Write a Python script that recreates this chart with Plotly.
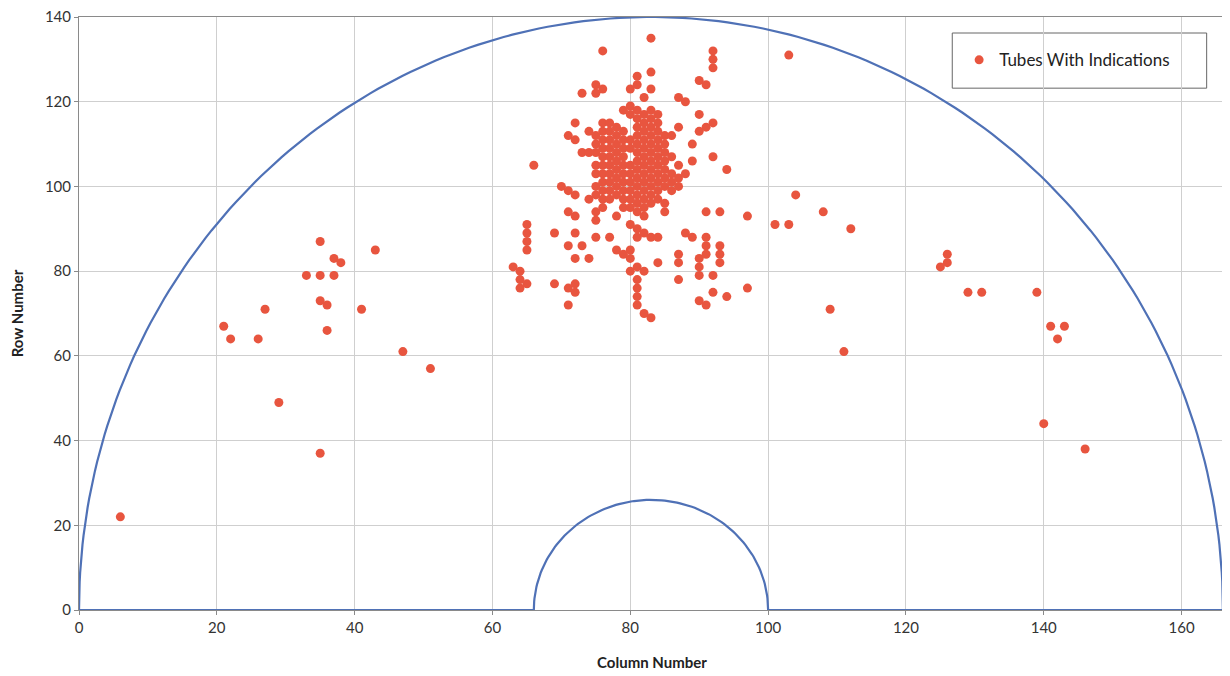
import numpy as np
import plotly.graph_objects as go

# Tube positions with indications: (column, row) grouped by column
tube_columns = {
    6: [22],
    21: [67], 22: [64], 26: [64], 27: [71], 29: [49],
    33: [79], 35: [87, 79, 73, 37], 36: [72, 66], 37: [83, 79], 38: [82],
    41: [71], 43: [85], 47: [61], 51: [57],
    63: [81], 64: [80, 78, 76], 65: [91, 89, 87, 85, 77], 66: [105],
    69: [89, 77], 70: [100], 71: [112, 99, 94, 86, 76, 72],
    72: [115, 111, 98, 93, 89, 83, 77, 75], 73: [122, 108, 86],
    74: [113, 108, 97, 83],
    75: [124, 122, 112, 110, 108, 105, 103, 100, 98, 94, 92, 88],
    76: [132, 123, 115, 113, 111, 109, 107, 105, 103, 101, 99, 97, 95],
    77: [115, 113, 111, 109, 107, 105, 103, 101, 99, 97, 88],
    78: [114, 112, 110, 108, 106, 104, 102, 100, 98, 93, 85],
    79: [118, 113, 111, 109, 107, 105, 103, 101, 99, 97, 95, 84],
    80: [123, 119, 117, 111, 109, 105, 103, 101, 99, 97, 95, 91, 85, 83, 80],
    81: [126, 124, 118, 116, 114, 112, 110, 108, 106, 104, 102, 100, 98, 96, 94, 90, 88, 81, 78, 76, 74, 72],
    82: [121, 117, 115, 113, 111, 109, 107, 105, 103, 101, 99, 97, 95, 93, 89, 80, 70],
    83: [135, 127, 123, 118, 116, 114, 112, 110, 108, 106, 104, 102, 100, 98, 96, 88, 69],
    84: [117, 115, 113, 111, 109, 107, 105, 103, 101, 99, 97, 88, 82],
    85: [112, 110, 108, 106, 104, 102, 100, 96, 94],
    86: [112, 107, 103, 101, 99],
    87: [121, 114, 105, 102, 100, 84, 82, 78],
    88: [120, 103, 89], 89: [110, 106, 88],
    90: [125, 117, 113, 83, 81, 79, 73],
    91: [124, 114, 94, 88, 86, 84, 72],
    92: [132, 130, 128, 115, 107, 79, 75],
    93: [94, 86, 84, 82], 94: [104, 74], 97: [93, 76],
    101: [91], 103: [131, 91], 104: [98], 108: [94], 109: [71], 111: [61], 112: [90],
    125: [81], 126: [84, 82], 129: [75], 131: [75], 139: [75], 140: [44],
    141: [67], 142: [64], 143: [67], 146: [38],
}

cols = [c for c, rows in tube_columns.items() for _ in rows]
rows = [r for c, rs in tube_columns.items() for r in rs]

# Tubesheet outline parameters
CENTER = 83
OUTER_RX, OUTER_RY = 83, 140
INNER_RX, INNER_RY = 17, 26

t = np.linspace(np.pi, 0, 200)
outer_x = CENTER + OUTER_RX * np.cos(t)
outer_y = OUTER_RY * np.sin(t)
t2 = np.linspace(0, np.pi, 120)
inner_x = CENTER + INNER_RX * np.cos(t2)
inner_y = INNER_RY * np.sin(t2)
ox = np.concatenate([outer_x, inner_x, [CENTER - OUTER_RX]])
oy = np.concatenate([outer_y, inner_y, [0]])

fig = go.Figure()
fig.add_trace(go.Scatter(x=ox, y=oy, mode="lines",
                         line=dict(color="#4f71b6", width=2.2),
                         showlegend=False, hoverinfo="skip"))
fig.add_trace(go.Scatter(x=cols, y=rows, mode="markers", name="Tubes With Indications",
                         marker=dict(color="#e8553f", size=9, line=dict(width=0))))

font_family = "Lato, Open Sans, sans-serif"
fig.update_layout(
    width=1222, height=668,
    margin=dict(l=71, r=5, t=9, b=66),
    paper_bgcolor="white", plot_bgcolor="white",
    font=dict(family=font_family, size=15, color="#333333"),
    legend=dict(x=0.768, y=0.927, xanchor="left", yanchor="middle",
                borderwidth=0, bgcolor="rgba(0,0,0,0)",
                font=dict(size=17, color="#222222"),
                itemwidth=30),
    showlegend=True,
    shapes=[dict(type="rect", xref="paper", yref="paper",
                 x0=0.762, x1=0.984, y0=0.880, y1=0.973,
                 line=dict(color="#666666", width=1), fillcolor="white", layer="below")],
)
fig.update_xaxes(range=[0, 166.3], dtick=20, tick0=0, automargin=False,
                 ticklabeloverflow="allow",
                 showgrid=True, gridcolor="#cfcfcf", gridwidth=1,
                 zeroline=False, showline=True, linecolor="#8a8a8a", mirror=True,
                 ticks="outside", ticklen=4, tickcolor="#8a8a8a",
                 title=dict(text="<b>Column Number</b>", font=dict(size=15, color="#222222"), standoff=22))
fig.update_yaxes(range=[0, 140], dtick=20, tick0=0, automargin=False,
                 ticklabeloverflow="allow",
                 showgrid=True, gridcolor="#cfcfcf", gridwidth=1,
                 zeroline=False, showline=True, linecolor="#8a8a8a", mirror=True,
                 ticks="outside", ticklen=4, tickcolor="#8a8a8a",
                 title=dict(text="<b>Row Number</b>", font=dict(size=15, color="#222222"), standoff=17))

fig.write_html("out.html")
